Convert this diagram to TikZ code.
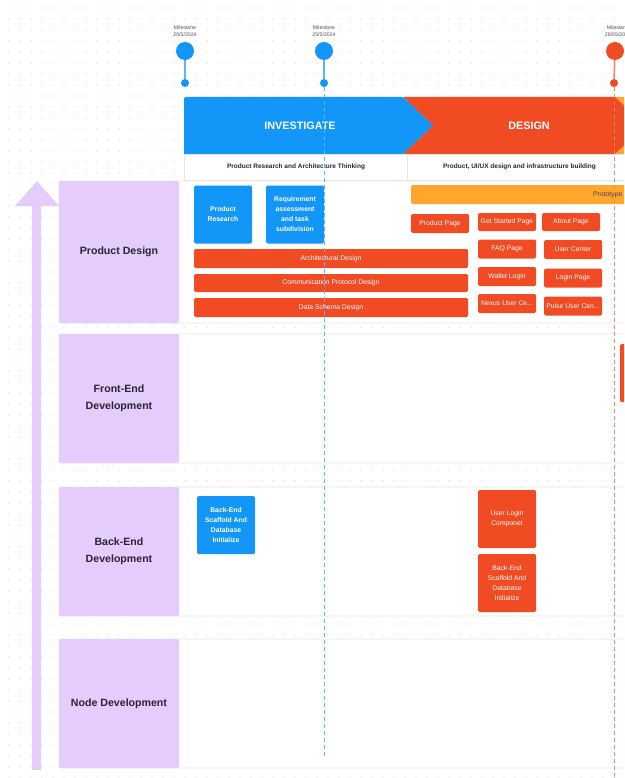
\documentclass[tikz,border=0pt]{standalone}
\usepackage{fontspec}
\setmainfont{Liberation Sans}
\usetikzlibrary{positioning}
\definecolor{rmblue}{HTML}{1296F8}
\definecolor{rmbluelight}{HTML}{5CB6F6}
\definecolor{rmorange}{HTML}{F04B23}
\definecolor{rmorangelight}{HTML}{F2866A}
\definecolor{rmyellow}{HTML}{FFA62B}
\definecolor{rmlilac}{HTML}{E4CCFC}
\definecolor{rmgrey}{HTML}{E6E6EA}
\definecolor{rmdot}{HTML}{C9C9D0}
\definecolor{rmtext}{HTML}{2B2233}

\begin{document}
\begin{tikzpicture}[x=1pt, y=-1pt,
      task/.style={rectangle, rounded corners=1.5pt, fill=rmorange, text=white, minimum width=58pt, minimum height=19pt, inner sep=1pt, align=center, font=\fontsize{6.8}{10}\selectfont},
      bluetask/.style={task, fill=rmblue, font=\bfseries\fontsize{6.8}{10}\selectfont},
      tall/.style={minimum height=58pt},
      bar/.style={task, minimum width=274pt},
      lanelabel/.style={rectangle, rounded corners=1.5pt, fill=rmlilac, text=rmtext, minimum width=120pt, align=center, font=\bfseries\fontsize{10.6}{16.5}\selectfont},
      lane/.style={draw=rmgrey, fill=white, line width=0.8pt, rounded corners=2pt},
      phase/.style={text=white, font=\bfseries\fontsize{10.8}{12}\selectfont},
      subhead/.style={rectangle, draw=rmgrey, fill=white, line width=0.8pt, minimum width=224pt, minimum height=26pt, text=rmtext, font=\bfseries\fontsize{6.5}{7.5}\selectfont},
      mile/.style={circle, minimum size=18pt, inner sep=0pt},
      miledot/.style={circle, minimum size=8pt, inner sep=0pt},
      miletext/.style={text=rmtext!80, align=center, font=\fontsize{5.2}{6.6}\selectfont},
      mileline/.style={line width=1.6pt},
      cutline/.style={dashed, dash pattern=on 4pt off 3pt, line width=1pt},
    ]
    \useasboundingbox (0,0) rectangle (624,778);
    \clip (0,0) rectangle (624,778);
    \fill[white] (0,0) rectangle (624,778);
    \foreach \x in {9,20,...,624}
      \foreach \y in {8,19,...,778}
        \fill[rmdot] (\x,\y) circle (0.6);

    \draw[lane] (59,181) rectangle (680,323);
    \draw[lane] (59,334) rectangle (680,463);
    \draw[lane] (59,487) rectangle (680,616);
    \draw[lane] (59,639) rectangle (680,768);

    \node[lanelabel, minimum height=142pt] (pd) at (119,252) {Product Design};
    \node[lanelabel, minimum height=129pt] (fe) at (119,398.5) {Front-End\\Development};
    \node[lanelabel, minimum height=129pt] (be) at (119,551.5) {Back-End\\Development};
    \node[lanelabel, minimum height=129pt] (nd) at (119,703.5) {Node Development};

    \fill[rmlilac] (32,206) -- (15,206) -- (37,181) -- (59,206) -- (41,206) -- (41,770) -- (32,770) -- cycle;

    \fill[rmyellow] (615,97) -- (680,97) -- (680,154) -- (615,154) -- (645,125.5) -- cycle;
    \fill[rmorange] (403,97) -- (615,97) -- (645,125.5) -- (615,154) -- (403,154) -- (433,125.5) -- cycle;
    \fill[rmblue, rounded corners=1.5pt] (184,154) -- (184,97) -- (403,97) [sharp corners] -- (433,125.5) -- (403,154) -- cycle;
    \node[phase] (inv) at (300,126) {INVESTIGATE};
    \node[phase] (des) at (529,126) {DESIGN};
    \node[subhead] (sub1) at (296,167) {Product Research and Architecture Thinking};
    \node[subhead] (sub2) at (519.5,167) {Product, UI/UX design and infrastructure building};

    \node[bluetask, tall] (res) at (223,214.5) {Product\\Research};
    \node[bluetask, tall] (req) at (295,214.5) {Requirement\\assessment\\and task\\subdivision};
    \node[bar] (arch) at (331,258.5) {Architectural Design};
    \node[bar, minimum height=18pt] (comm) at (331,283) {Communication Protocol Design};
    \node[bar] (schema) at (331,307.5) {Data Schema Design};

    \node[task, fill=rmyellow, minimum width=289pt] (proto) at (555.5,194.5) {};
    \node[anchor=west, inner sep=0pt, text=rmtext!85, font=\fontsize{6.8}{8}\selectfont] (protot) at (593,194.5) {Prototype};

    \node[task] (prod) at (440,223.5) {Product Page};
    \node[task, minimum height=18pt] (start) at (507,222) {Get Started Page};
    \node[task, minimum height=18pt] (about) at (571,222) {About Page};
    \node[task] (faq) at (507,249) {FAQ Page};
    \node[task] (uc) at (573,249.5) {User Center};
    \node[task] (wallet) at (507,276.5) {Wallet Login};
    \node[task] (login) at (573,278) {Login Page};
    \node[task] (nexus) at (507,303.5) {Nexus User Ce...};
    \node[task] (pulse) at (573,306) {Pulse User Cen...};

    \node[task, tall] (fe1) at (649,373) {};

    \node[bluetask, tall] (scaf1) at (226,525) {Back-End\\Scaffold And\\Database\\Initialize};
    \node[task, tall] (ulc) at (507,519) {User Login\\Componet};
    \node[task, tall] (scaf2) at (507,583) {Back-End\\Scaffold And\\Database\\Initialize};

    \node[mile, fill=rmblue] (m1) at (185,51) {};
    \node[miledot, fill=rmblue] (m1d) at (185,83) {};
    \node[miletext] (m1t) at (185,31) {Milestone\\20/5/2024};
    \node[mile, fill=rmblue] (m2) at (324,51) {};
    \node[miledot, fill=rmblue] (m2d) at (324,83) {};
    \node[miletext] (m2t) at (324,31) {Milestone\\25/5/2024};
    \node[mile, fill=rmorange] (m3) at (615,51) {};
    \node[miledot, fill=rmorange] (m3d) at (614,83) {};
    \node[miletext] (m3t) at (618,31) {Milestone\\28/05/2024};
    \coordinate (m2end) at (324,758);
    \coordinate (m3end) at (614,778);

    \draw[mileline, rmbluelight] (m1) -- (m1d);
    \draw[mileline, rmbluelight] (m2) -- (m2d);
    \draw[mileline, rmorangelight] (m3) -- (m3d);
    \draw[cutline, rmbluelight] (m2d) -- (m2end);
    \draw[cutline, rmorangelight] (m3d) -- (m3end);
  \end{tikzpicture}
\end{document}
